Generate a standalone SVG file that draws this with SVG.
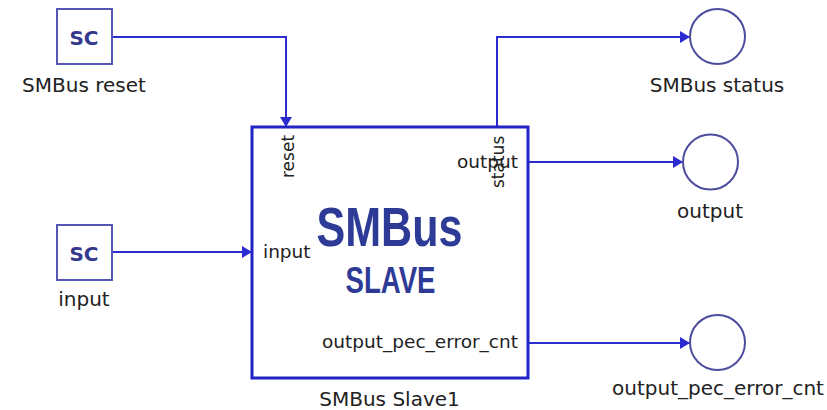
<svg xmlns="http://www.w3.org/2000/svg" width="827" height="410" viewBox="0 0 827 410">
<defs>
<style>
.lbl{font-family:"DejaVu Sans",Verdana,sans-serif;font-size:20px;fill:#222;}
.port{font-family:"DejaVu Sans",Verdana,sans-serif;font-size:18.5px;fill:#222;}
.rport{font-family:"DejaVu Sans",Verdana,sans-serif;font-size:17px;fill:#222;}
.sc{fill:#fff;stroke:#5555b5;stroke-width:2;}
.sct{font-family:"DejaVu Sans",Verdana,sans-serif;font-size:20px;font-weight:bold;fill:#33398f;}
.out{fill:#fff;stroke:#4d4d9e;stroke-width:2;}
.wire{fill:none;stroke:#2b2bd0;stroke-width:2;}
.big{font-family:"Liberation Sans",Arial,sans-serif;font-weight:bold;fill:#2e3b96;}
</style>
<marker id="arr" markerWidth="10" markerHeight="12" refX="10" refY="6" orient="auto" markerUnits="userSpaceOnUse">
<path d="M0,0 L10,6 L0,12 Z" fill="#2b2bd0"/>
</marker>
</defs>
<g id="connectors">
<path class="wire" d="M112,37 H286 V127" marker-end="url(#arr)"/>
<path class="wire" d="M112,252 H252" marker-end="url(#arr)"/>
<path class="wire" d="M497,127 V37 H690" marker-end="url(#arr)"/>
<path class="wire" d="M528,162 H683" marker-end="url(#arr)"/>
<path class="wire" d="M528,343 H690" marker-end="url(#arr)"/>
</g>
<g id="smbus-reset">
<rect class="sc" x="57" y="9" width="55" height="55"/>
<text class="sct" x="84" y="45" text-anchor="middle">SC</text>
<text class="lbl" x="84" y="92" text-anchor="middle">SMBus reset</text>
</g>
<g id="input-src">
<rect class="sc" x="57" y="225" width="55" height="55"/>
<text class="sct" x="84" y="261" text-anchor="middle">SC</text>
<text class="lbl" x="84" y="306" text-anchor="middle">input</text>
</g>
<g id="smbus-slave1">
<rect x="252" y="127" width="276" height="251" fill="#fff" stroke="#2323c8" stroke-width="3"/>
<text class="big" x="389.5" y="246" font-size="55" text-anchor="middle" textLength="146" lengthAdjust="spacingAndGlyphs">SMBus</text>
<text class="big" x="390.5" y="293" font-size="36" text-anchor="middle" textLength="90" lengthAdjust="spacingAndGlyphs">SLAVE</text>
<text class="rport" transform="translate(294,178) rotate(-90)">reset</text>
<text class="rport" transform="translate(504,188) rotate(-90)">status</text>
<text class="port" x="518" y="168" text-anchor="end">output</text>
<text class="port" x="263" y="258">input</text>
<text class="port" x="518" y="348" text-anchor="end">output_pec_error_cnt</text>
<text class="lbl" x="389.5" y="406" text-anchor="middle">SMBus Slave1</text>
</g>
<g id="smbus-status">
<circle class="out" cx="717.5" cy="36.5" r="27.5"/>
<text class="lbl" x="717" y="92" text-anchor="middle">SMBus status</text>
</g>
<g id="output">
<circle class="out" cx="710.5" cy="162" r="27.5"/>
<text class="lbl" x="710" y="218" text-anchor="middle">output</text>
</g>
<g id="output-pec">
<circle class="out" cx="717.5" cy="342.5" r="27.5"/>
<text class="lbl" x="718" y="395" text-anchor="middle">output_pec_error_cnt</text>
</g>
</svg>
